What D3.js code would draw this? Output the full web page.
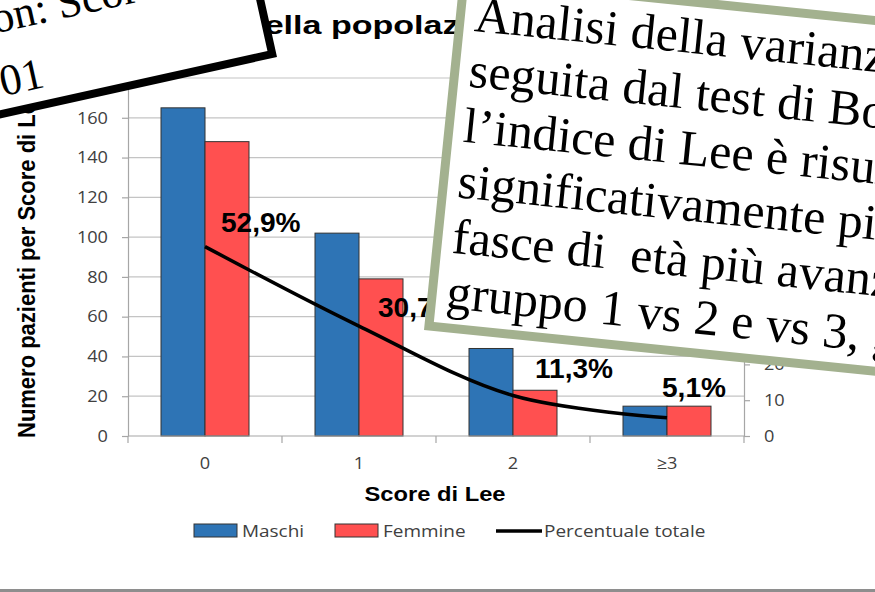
<!DOCTYPE html>
<html><head><meta charset="utf-8">
<script src="https://cdn.jsdelivr.net/npm/d3@7"></script>
<style>html,body{margin:0;padding:0;background:#fff;overflow:hidden}svg{display:block}</style>
</head><body>
<svg id="c" width="875" height="592"></svg>
<script>
// ---------- data ----------
const categories = ["0", "1", "2", "≥3"];
const seriesNames = ["Maschi", "Femmine"];
const maschi = [165, 102, 44, 15];
const femmine = [148, 79, 23, 15];
const lineName = "Percentuale totale";
const percentualeTotale = [52.9, 30.7, 11.3, 5.1];
const leftTicks = [0, 20, 40, 60, 80, 100, 120, 140, 160, 180];
const rightTicks = [0, 10, 20, 30, 40, 50, 60, 70, 80, 90, 100];
const chartTitle = "Distribuzione dello Score di Lee nella popolazione in studio";
const xTitle = "Score di Lee";
const yTitle = "Numero pazienti per Score di Lee";
const noteLeft = ["Correlazione di Pearson: Score di Lee ed età", "p<0,001"];
const noteRight = [
  "Analisi della varianza (ANOVA)",
  "seguita dal test di Bonferroni:",
  "l\u2019indice di Lee è risultato",
  "significativamente più alto nelle",
  "fasce di  età più avanzate (p<0,05:",
  "gruppo 1 vs 2 e vs 3, gruppo 2 vs 3)"
];

// ---------- drawing ----------
const svg = d3.select("#c");
const SANS = "'Liberation Sans', Arial, sans-serif";
const LIGHT = "'Open Sans', sans-serif";
const SERIF = "'Liberation Serif', 'Times New Roman', serif";
const SX = 1.1;             // horizontal stretch of slide text
const axisColor = "#a6a6a6", gridColor = "#c4c4c4", tickText = "#404040";
const colors = {Maschi: "#2e74b5", Femmine: "#ff5050"};

svg.append("rect").attr("width", 875).attr("height", 592).attr("fill", "#fff");

const M = {l: 128, r: 744, t: 78, b: 436};
const x = d3.scaleBand().domain(categories).range([M.l, M.r]);
const bw = x.bandwidth();
const x1 = d3.scaleBand().domain(seriesNames).range([bw * 0.2143, bw * 0.7857]);
const yL = d3.scaleLinear().domain([0, 180]).range([M.b, M.t]);
const yR = d3.scaleLinear().domain([0, 100]).range([M.b, M.t]);

// title
const title = svg.append("text").attr("font-family", SANS).attr("font-weight", "bold")
  .attr("font-size", 26).attr("fill", "#000").text(chartTitle);
const pre = chartTitle.indexOf("ella popol");
const preLen = title.node().getSubStringLength(0, pre);
title.attr("transform", `translate(265,34) scale(1.31,1)`).attr("x", -preLen).attr("y", 0);

// gridlines
svg.append("g").selectAll("line").data(leftTicks.filter(d => d > 0)).join("line")
  .attr("x1", M.l).attr("x2", M.r).attr("y1", d => yL(d)).attr("y2", d => yL(d))
  .attr("stroke", gridColor).attr("stroke-width", 1.2);

// left axis
const gL = svg.append("g").attr("transform", `translate(${M.l},0)`)
  .call(d3.axisLeft(yL).tickValues(leftTicks).tickSize(6).tickSizeOuter(0));
gL.attr("font-family", LIGHT).attr("font-size", 16.5);
gL.select(".domain").attr("stroke", axisColor).attr("stroke-width", 1.2);
gL.selectAll(".tick line").attr("stroke", axisColor).attr("stroke-width", 1.2);
gL.selectAll(".tick text").attr("fill", tickText).attr("x", -20 / SX).attr("transform", `scale(${SX},1)`);

// right axis
const gR = svg.append("g").attr("transform", `translate(${M.r},0)`)
  .call(d3.axisRight(yR).tickValues(rightTicks).tickSize(6).tickSizeOuter(0));
gR.attr("font-family", LIGHT).attr("font-size", 16.5);
gR.select(".domain").attr("stroke", axisColor).attr("stroke-width", 1.2);
gR.selectAll(".tick line").attr("stroke", axisColor).attr("stroke-width", 1.2);
gR.selectAll(".tick text").attr("fill", tickText).attr("x", 20 / SX).attr("transform", `scale(${SX},1)`);

// bars
const groups = svg.append("g").selectAll("g").data(categories).join("g")
  .attr("transform", d => `translate(${x(d)},0)`);
groups.selectAll("rect").data((c, i) => [{k: "Maschi", v: maschi[i]}, {k: "Femmine", v: femmine[i]}])
  .join("rect")
  .attr("x", d => x1(d.k)).attr("width", x1.bandwidth())
  .attr("y", d => yL(d.v)).attr("height", d => yL(0) - yL(d.v))
  .attr("fill", d => colors[d.k]).attr("stroke", "#333").attr("stroke-width", 1);

// bottom axis
const gB = svg.append("g");
gB.append("line").attr("x1", M.l).attr("x2", M.r).attr("y1", M.b).attr("y2", M.b)
  .attr("stroke", axisColor).attr("stroke-width", 1.2);
const bounds = categories.map(c => x(c)).concat([M.r]);
gB.selectAll(".bt").data(bounds).join("line").attr("class", "bt")
  .attr("x1", d => d).attr("x2", d => d).attr("y1", M.b).attr("y2", M.b + 7)
  .attr("stroke", axisColor).attr("stroke-width", 1.2);
gB.selectAll(".cl").data(categories).join("text").attr("class", "cl")
  .attr("transform", d => `translate(${x(d) + bw / 2},469) scale(${SX},1)`)
  .attr("text-anchor", "middle").attr("font-family", LIGHT).attr("font-size", 16.5)
  .attr("fill", tickText).text(d => d);

// line
const pts = percentualeTotale.map((v, i) => [x(categories[i]) + bw / 2, yR(v)]);
svg.append("path").attr("d", d3.line().curve(d3.curveCatmullRom.alpha(0.5))(pts))
  .attr("fill", "none").attr("stroke", "#000").attr("stroke-width", 3.5);

// data labels (manually placed as in the slide)
const labelOffsets = [[16, -15], [19, -9], [22, -18], [-5, -21]];
const fmt = v => d3.format(".1f")(v).replace(".", ",") + "%";
svg.append("g").selectAll("text").data(percentualeTotale).join("text")
  .attr("transform", (d, i) => `translate(${pts[i][0] + labelOffsets[i][0]},${pts[i][1] + labelOffsets[i][1]}) scale(1.04,1)`)
  .attr("font-family", SANS).attr("font-weight", "bold").attr("font-size", 27)
  .attr("fill", "#000").text(fmt);

// axis titles
svg.append("text").attr("transform", `translate(35,438) scale(${SX},1) rotate(-90)`)
  .attr("font-family", SANS).attr("font-weight", "bold").attr("font-size", 22)
  .attr("fill", "#000").text(yTitle);
svg.append("text").attr("transform", `translate(435,501) scale(1.13,1)`).attr("text-anchor", "middle")
  .attr("font-family", SANS).attr("font-weight", "bold").attr("font-size", 21)
  .attr("fill", "#000").text(xTitle);

// legend
const legendItems = [
  {name: seriesNames[0], type: "rect", color: colors.Maschi, sx: 194, tx: 242},
  {name: seriesNames[1], type: "rect", color: colors.Femmine, sx: 335, tx: 383},
  {name: lineName, type: "line", color: "#000", sx: 496, tx: 544}
];
const lg = svg.append("g");
legendItems.forEach(it => {
  if (it.type === "rect") {
    lg.append("rect").attr("x", it.sx).attr("y", 524).attr("width", 43).attr("height", 13)
      .attr("fill", it.color).attr("stroke", "#333").attr("stroke-width", 1);
  } else {
    lg.append("line").attr("x1", it.sx).attr("x2", it.sx + 46).attr("y1", 531).attr("y2", 531)
      .attr("stroke", it.color).attr("stroke-width", 3.5);
  }
  lg.append("text").attr("transform", `translate(${it.tx},537) scale(1.15,1)`)
    .attr("font-family", LIGHT).attr("font-size", 16.5).attr("fill", tickText).text(it.name);
});

// slide bottom border
svg.append("rect").attr("x", 0).attr("y", 589).attr("width", 875).attr("height", 3).attr("fill", "#8e8e8e");

// left overlay note (black frame)
const lb = svg.append("g").attr("transform", "translate(277,57) rotate(-12.5)");
lb.append("rect").attr("x", -1200).attr("y", -400).attr("width", 1196).attr("height", 396)
  .attr("fill", "#fff").attr("stroke", "#000").attr("stroke-width", 8);
const l1 = lb.append("text").attr("font-family", SERIF).attr("font-size", 44).attr("fill", "#000")
  .attr("y", -84).text(noteLeft[0]);
const colon = noteLeft[0].indexOf(":") + 1;
l1.attr("x", -214 - l1.node().getSubStringLength(0, colon));
lb.append("text").attr("font-family", SERIF).attr("font-size", 44).attr("fill", "#000")
  .attr("text-anchor", "end").attr("x", -232).attr("y", -21).text(noteLeft[1]);

// right overlay note (green frame)
const rb = svg.append("g").attr("transform", "translate(424,330) rotate(5.8)");
rb.append("rect").attr("x", 4.5).attr("y", -353.5).attr("width", 1200).attr("height", 349)
  .attr("fill", "#fff").attr("stroke", "#a3b18f").attr("stroke-width", 9);
rb.selectAll("text").data(noteRight).join("text")
  .attr("x", 19).attr("y", (d, i) => -24 - 55.7 * (noteRight.length - 1 - i))
  .attr("font-family", SERIF).attr("font-size", 50).attr("fill", "#000")
  .style("white-space", "pre").text(d => d);
</script>
</body></html>
